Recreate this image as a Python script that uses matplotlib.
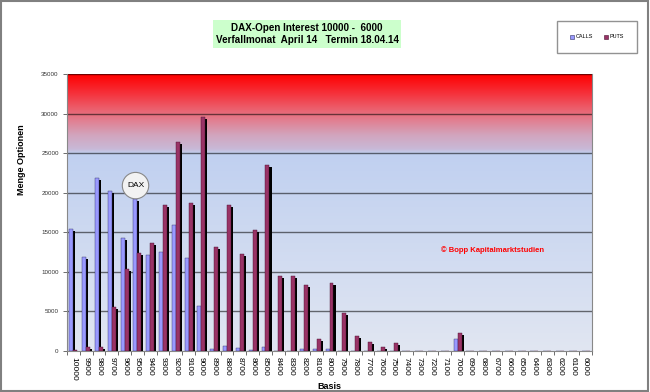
import numpy as np
import matplotlib
matplotlib.use('Agg')
import matplotlib.pyplot as plt
from matplotlib.lines import Line2D
from matplotlib.patches import Rectangle

plt.rcParams['font.family'] = ['Liberation Sans', 'DejaVu Sans']

# Basis 10000 ... 6000
basis = [str(b) for b in range(10000, 5900, -100)]

calls = [15400, 11900, 21800, 20200, 14300, 19200, 12100, 12500, 15900, 11800,
         5700, 300, 600, 400, 100, 500, 0, 50, 300, 300,
         250, 0, 0, 0, 0, 0, 0, 0, 0, 0,
         1500, 0, 0, 0, 0, 0, 0, 0, 0, 0, 0]
puts = [100, 500, 500, 5500, 10300, 12400, 13600, 18400, 26400, 18700,
        29600, 13200, 18400, 12200, 15300, 23500, 9500, 9500, 8300, 1500,
        8600, 4800, 1900, 1100, 500, 1000, 0, 0, 0, 0,
        2300, 0, 0, 0, 0, 0, 0, 0, 0, 0, 0]

yticks = list(range(0, 35001, 5000))

fig = plt.figure(figsize=(6.5, 3.92), dpi=100)
fig.patch.set_facecolor('white')
ax = fig.add_axes([0.1031, 0.1046, 0.8077, 0.7066])

# Hintergrund-Verlauf (rot oben -> hellblau unten)
stops = [0.0, 0.714, 0.73, 0.78, 0.857, 0.93, 1.0]
cols = np.array([[225, 230, 242], [192, 208, 240], [200, 185, 215], [210, 165, 190],
                 [232, 110, 125], [245, 50, 60], [255, 0, 0]]) / 255.0
t = np.linspace(0, 1, 400)
grad = np.stack([np.interp(t, stops, cols[:, k]) for k in range(3)], axis=1)
ax.imshow(grad[:, None, :], extent=[0, 1, 0, 1], transform=ax.transAxes,
          aspect='auto', origin='lower', zorder=0)

x = np.arange(len(basis))
w = 0.31
sh = 0.16

for v in yticks[1:]:
    ax.axhline(v, color='black', alpha=0.55, lw=1, zorder=1)

# Schatten (3D-Effekt)
ax.bar(x - w / 2 + sh, np.maximum(np.array(calls) - 250, 0), w, color='black', zorder=2)
ax.bar(x + w / 2 + sh, np.maximum(np.array(puts) - 250, 0), w, color='black', zorder=2)
ax.bar(x - w / 2, calls, w, color='#9999FF', edgecolor='#333366', lw=0.3, zorder=3)
ax.bar(x + w / 2, puts, w, color='#993366', edgecolor='#4a1030', lw=0.3, zorder=4)

ax.set_xlim(-0.5, len(basis) - 0.5)
ax.set_ylim(0, 35000)
ax.set_yticks(yticks)
ax.set_yticklabels([str(v) for v in yticks], fontsize=4.5, color='#333333')
ax.set_xticks(x)
ax.set_xticklabels(basis, rotation=270, fontsize=6, va='top', ha='center')
ax.set_xticks(np.arange(-0.5, len(basis), 1), minor=True)
ax.tick_params(axis='x', which='major', length=0, pad=4)
ax.tick_params(axis='x', which='minor', length=3, color='#555555', width=0.6)
ax.tick_params(axis='y', length=3, color='#555555', width=0.6, pad=3)
for s in ['left', 'bottom', 'right', 'top']:
    ax.spines[s].set_color('#888888')
    ax.spines[s].set_linewidth(0.8)
ax.spines['top'].set_visible(False)

ax.set_xlabel('Basis', fontsize=6.5, fontweight='bold', labelpad=1)
fig.text(21 / 650, 1 - 160 / 392, 'Menge Optionen', rotation=90, fontsize=6.5,
         fontweight='bold', ha='center', va='center')

# DAX-Marke
dax_idx = basis.index('9500')
ax.text(dax_idx - 0.15, 20900, 'DAX', fontsize=6, ha='center', va='center', zorder=6,
        bbox=dict(boxstyle='circle,pad=0.55', fc='#f2f2f2', ec='#888888', lw=0.8))

ax.text(0.811, 0.365, '© Bopp Kapitalmarktstudien', transform=ax.transAxes,
        color='red', fontsize=5.5, fontweight='bold', ha='center', va='center', zorder=6)

# Titel
fig.text(307 / 650, 1 - 34 / 392,
         'DAX-Open Interest 10000 -  6000\nVerfallmonat  April 14   Termin 18.04.14',
         fontsize=7.1, fontweight='bold', ha='center', va='center', linespacing=1.2,
         bbox=dict(boxstyle='square,pad=0.3', fc='#ccffcc', ec='none'))

handles = [Line2D([], [], marker='s', ls='', ms=3, mfc='#9999FF', mec='#333366', mew=0.4),
           Line2D([], [], marker='s', ls='', ms=3, mfc='#993366', mec='#4a1030', mew=0.4)]
leg = fig.legend(handles, ['CALLS', 'PUTS'], loc='center', bbox_to_anchor=(597 / 650, 1 - 37 / 392),
                 ncol=2, fontsize=4, frameon=True, fancybox=False, handletextpad=0.2,
                 columnspacing=2.0, borderpad=2.4, handlelength=0.8)
leg.get_frame().set_edgecolor('#777777')
leg.get_frame().set_linewidth(1.0)

fig.add_artist(Rectangle((0.002, 0.003), 0.995, 0.994, transform=fig.transFigure,
                         fill=False, ec='#808080', lw=1.5))

fig.savefig('out.png', dpi=100)
